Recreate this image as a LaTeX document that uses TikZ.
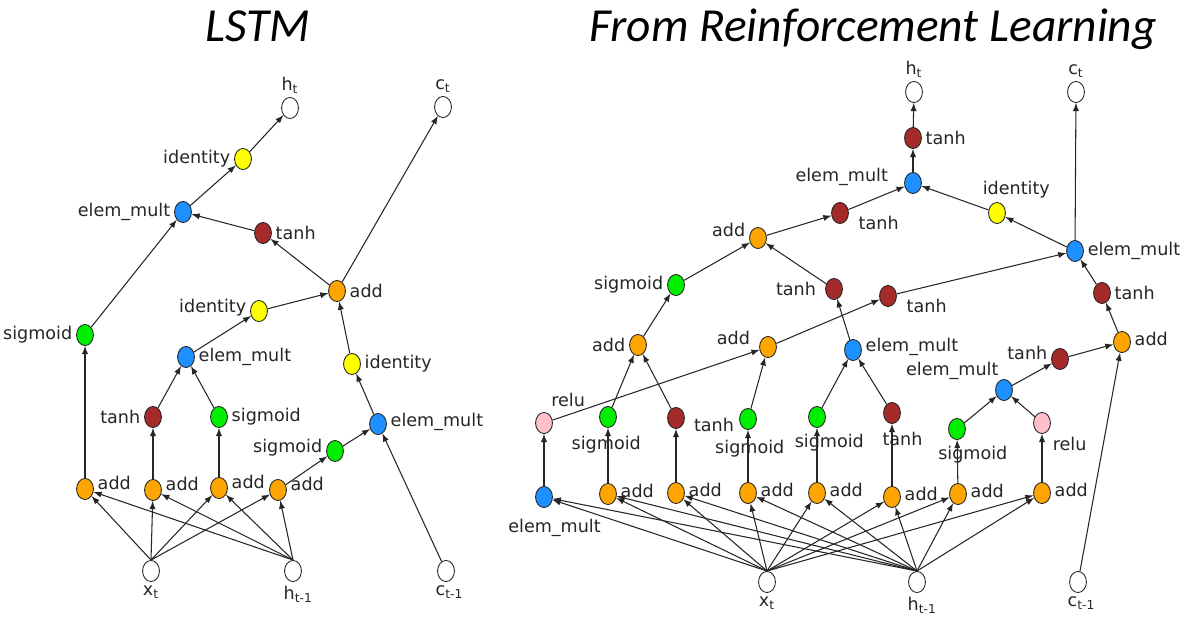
\documentclass[tikz,border=0pt]{standalone}
\usepackage{fontspec}
\usepackage{tikz}
\usetikzlibrary{shapes.geometric}
\newfontfamily\dejavu{DejaVu Sans}
\newfontfamily\carlito{Carlito}
\definecolor{opOrange}{HTML}{FFA500}
\definecolor{opGreen}{HTML}{00EE00}
\definecolor{opBlue}{HTML}{1E90FF}
\definecolor{opRed}{HTML}{A52A2A}
\definecolor{opYellow}{HTML}{FFFF00}
\definecolor{opPink}{HTML}{FFC0CB}

\begin{document}
\begin{tikzpicture}[x=0.02cm, y=-0.02cm,
			lbl/.style={font=\dejavu\fontsize{10}{12}\selectfont, text=black!85, inner sep=2pt},
			op/.style={ellipse, draw=black!85, line width=0.5pt, minimum width=9.6pt, minimum height=12pt, inner sep=0pt},
			io/.style={op, fill=white},
			opadd/.style={op, fill=opOrange},
			opsig/.style={op, fill=opGreen},
			opmul/.style={op, fill=opBlue},
			optanh/.style={op, fill=opRed},
			opid/.style={op, fill=opYellow},
			oprelu/.style={op, fill=opPink},
			arr/.style={-latex, line width=0.6pt, draw=black!85},
			title/.style={font=\carlito\itshape\fontsize{27}{30}\selectfont, anchor=base}
		]
		\useasboundingbox (0,0) rectangle (1187,631);

		\node[title] (ttlL) at (258,42) {LSTM};
		\node[title] (ttlR) at (873,42) {From Reinforcement Learning};

		% LSTM
		\node[io, label={[lbl]above:h\textsubscript{t}}] (lht) at (290,108) {};
		\node[io, label={[lbl]above:c\textsubscript{t}}] (lct) at (443,107) {};
		\node[opid, label={[lbl]left:identity}] (lid1) at (243,159) {};
		\node[opmul, label={[lbl]left:elem\_mult}] (lem1) at (183,212) {};
		\node[optanh, label={[lbl]right:tanh}] (lth1) at (263,233) {};
		\node[opadd, label={[lbl]right:add}] (lad1) at (337,291) {};
		\node[opid, label={[lbl,yshift=2pt]left:identity}] (lid2) at (259,311) {};
		\node[opsig, label={[lbl]left:sigmoid}] (lsg1) at (85,335) {};
		\node[opmul, label={[lbl]right:elem\_mult}] (lem2) at (186,357) {};
		\node[opid, label={[lbl]right:identity}] (lid3) at (352,364) {};
		\node[optanh, label={[lbl]left:tanh}] (lth2) at (153,417) {};
		\node[opsig, label={[lbl]right:sigmoid}] (lsg2) at (219,417) {};
		\node[opmul, label={[lbl,yshift=1pt]right:elem\_mult}] (lem3) at (378,424) {};
		\node[opsig, label={[lbl,yshift=2pt]left:sigmoid}] (lsg3) at (335,451) {};
		\foreach \n/\x/\y in {lab1/85/489, lab2/153/490, lab3/219/488, lab4/278/490}
			\node[opadd, label={[lbl,yshift=3.5pt]right:add}] (\n) at (\x,\y) {};
		\node[io, label={[lbl]below:x\textsubscript{t}}] (lxt) at (151,571) {};
		\node[io, label={[lbl,xshift=3pt]below:h\textsubscript{t-1}}] (lhp) at (293,571) {};
		\node[io, label={[lbl,xshift=2pt]below:c\textsubscript{t-1}}] (lcp) at (446,571) {};

		\foreach \n in {lab1,lab2,lab3,lab4} {
			\draw[arr] (lxt.north) -- (\n);
			\draw[arr] (lhp.north) -- (\n);
		}
		\foreach \a/\b in {lab1/lsg1, lsg1/lem1, lab2/lth2, lab3/lsg2, lth2/lem2, lsg2/lem2,
				lab4/lsg3, lsg3/lem3, lcp/lem3, lem3/lid3, lid3/lad1, lem2/lid2, lid2/lad1,
				lad1/lth1, lth1/lem1, lad1/lct, lem1/lid1, lid1/lht}
			\draw[arr] (\a) -- (\b);

		% from reinforcement learning
		\node[io, label={[lbl]above:h\textsubscript{t}}] (rht) at (914,92) {};
		\node[io, label={[lbl]above:c\textsubscript{t}}] (rct) at (1076,92) {};
		\node[optanh, label={[lbl]right:tanh}] (rth1) at (913,138) {};
		\node[opmul, label={[lbl,xshift=-7pt,yshift=3.4pt]left:elem\_mult}] (rem1) at (913,183) {};
		\node[opid, label={[lbl,xshift=11pt]above:identity}] (rid) at (997,213) {};
		\node[optanh, label={[lbl,xshift=3.4pt,yshift=-5.7pt]right:tanh}] (rth2) at (840,213) {};
		\node[opadd, label={[lbl,yshift=4.5pt]left:add}] (rad1) at (758,238) {};
		\node[opmul, label={[lbl]right:elem\_mult}] (rem2) at (1075,251) {};
		\node[opsig, label={[lbl]left:sigmoid}] (rsg1) at (676,285) {};
		\node[optanh, label={[lbl,xshift=-3pt]left:tanh}] (rth3) at (834,289) {};
		\node[optanh, label={[lbl,xshift=3.4pt,yshift=-5.7pt]right:tanh}] (rth4) at (888,296) {};
		\node[optanh, label={[lbl]right:tanh}] (rth5) at (1102,293) {};
		\node[opadd, label={[lbl]left:add}] (rad2) at (638,345) {};
		\node[opadd, label={[lbl,xshift=-3pt,yshift=5pt]left:add}] (rad3) at (768,347) {};
		\node[opmul, label={[lbl,yshift=2pt]right:elem\_mult}] (rem3) at (853,350) {};
		\node[opadd, label={[lbl,yshift=2pt]right:add}] (rad4) at (1122,342) {};
		\node[optanh, label={[lbl,yshift=3.5pt]left:tanh}] (rth6) at (1060,359) {};
		\node[opmul, label={[lbl,xshift=3pt]above left:elem\_mult}] (rem4) at (1004,390) {};
		\node[oprelu, label={[lbl,xshift=-2pt,yshift=3pt]above right:relu}] (rrl1) at (544,423) {};
		\node[opsig, label={[lbl,xshift=-1pt,yshift=-2.5pt]below:sigmoid}] (rsg2) at (608,417) {};
		\node[optanh, label={[lbl,xshift=3pt,yshift=-4pt]right:tanh}] (rth7) at (676,418) {};
		\node[opsig, label={[lbl,xshift=1pt,yshift=-3.5pt]below:sigmoid}] (rsg3) at (748,419) {};
		\node[opsig, label={[lbl,xshift=7pt,yshift=-1.5pt]below:sigmoid}] (rsg4) at (817,417) {};
		\node[optanh, label={[lbl,xshift=6pt,yshift=-2.5pt]below:tanh}] (rth8) at (892,413) {};
		\node[opsig, label={[lbl,xshift=9pt,yshift=-1.5pt]below:sigmoid}] (rsg5) at (957,429) {};
		\node[oprelu, label={[lbl,yshift=-2pt]below right:relu}] (rrl2) at (1042,423) {};
		\node[opmul, label={[lbl,xshift=6pt,yshift=-4pt]below:elem\_mult}] (rem5) at (544,497) {};
		\foreach \n/\x/\y in {rab1/608/494, rab2/676/493, rab3/748/493, rab4/817/493, rab5/892/497, rab6/958/494, rab7/1042/493}
			\node[opadd, label={[lbl,yshift=1.5pt]right:add}] (\n) at (\x,\y) {};
		\node[io, label={[lbl]below:x\textsubscript{t}}] (rxt) at (767,582) {};
		\node[io, label={[lbl,xshift=3pt]below:h\textsubscript{t-1}}] (rhp) at (917,582) {};
		\node[io, label={[lbl,xshift=2pt]below:c\textsubscript{t-1}}] (rcp) at (1078,582) {};

		\foreach \n in {rem5,rab1,rab2,rab3,rab4,rab5,rab6,rab7} {
			\draw[arr] (rxt.north) -- (\n);
			\draw[arr] (rhp.north) -- (\n);
		}
		\foreach \a/\b in {rem5/rrl1, rrl1/rad3, rab1/rsg2, rsg2/rad2, rab2/rth7, rth7/rad2,
				rad2/rsg1, rsg1/rad1, rab3/rsg3, rsg3/rad3, rad3/rth4, rth4/rem2,
				rab4/rsg4, rsg4/rem3, rab5/rth8, rth8/rem3, rem3/rth3, rth3/rad1,
				rad1/rth2, rth2/rem1, rab6/rsg5, rsg5/rem4, rab7/rrl2, rrl2/rem4,
				rem4/rth6, rth6/rad4, rcp/rad4, rad4/rth5, rth5/rem2, rem2/rid, rid/rem1,
				rem2/rct, rem1/rth1, rth1/rht}
			\draw[arr] (\a) -- (\b);
	\end{tikzpicture}
\end{document}
